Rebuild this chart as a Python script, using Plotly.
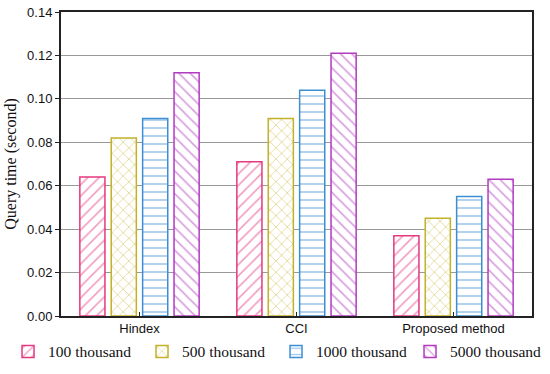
import plotly.graph_objects as go

categories = ["Hindex", "CCI", "Proposed method"]
series_names = ["100 thousand", "500 thousand", "1000 thousand", "5000 thousand"]
v100 = [0.064, 0.071, 0.037]
v500 = [0.082, 0.091, 0.045]
v1000 = [0.091, 0.104, 0.055]
v5000 = [0.112, 0.121, 0.063]
y_ticks = [0.00, 0.02, 0.04, 0.06, 0.08, 0.10, 0.12, 0.14]

series_values = [v100, v500, v1000, v5000]
colors = ["#E4397F", "#C2B12A", "#3D8FD3", "#B23BC2"]
shapes = ["/", "x", "-", "\\"]

fig = go.Figure()
for name, vals, col, shp in zip(series_names, series_values, colors, shapes):
    fig.add_trace(go.Bar(
        x=categories, y=vals, name=name,
        marker=dict(color="white", line=dict(color=col, width=1.5),
                    pattern=dict(shape=shp, fgcolor=col, bgcolor="white",
                                 size=8, solidity=0.2)),
    ))

fig.update_layout(
    width=550, height=374,
    margin=dict(l=61, r=18, t=12, b=58, autoexpand=False),
    paper_bgcolor="white", plot_bgcolor="white",
    barmode="group", bargap=0.2, bargroupgap=0.2,
    font=dict(family="Liberation Sans, Arial", size=12, color="#111"),
    legend=dict(orientation="h", x=-0.1125, xanchor="left", y=-0.118, yanchor="middle",
                font=dict(family="Liberation Serif, Times New Roman", size=15.5),
                entrywidth=89, entrywidthmode="pixels",
                itemwidth=30, tracegroupgap=0, bgcolor="rgba(0,0,0,0)"),
    showlegend=True,
)
fig.update_xaxes(showline=True, linecolor="#222", linewidth=1.5, mirror=True,
                 ticks="inside", ticklen=4, tickcolor="#222", automargin=False,
                 tickfont=dict(family="Liberation Sans, Arial", size=13))
fig.update_yaxes(range=[0, 0.14], tickvals=y_ticks, tickformat=".2f",
                 showline=True, linecolor="#222", linewidth=2, mirror=True,
                 ticks="outside", ticklen=4, tickcolor="#222", automargin=False,
                 showgrid=True, gridcolor="#999", gridwidth=1,
                 tickfont=dict(family="Liberation Sans, Arial", size=13),
                 title=dict(text="Query time (second)", standoff=6,
                            font=dict(family="Liberation Serif, Times New Roman", size=16)))

fig.write_html("out.html", config={"displayModeBar": False},
               post_script="document.body.style.margin='0';")
